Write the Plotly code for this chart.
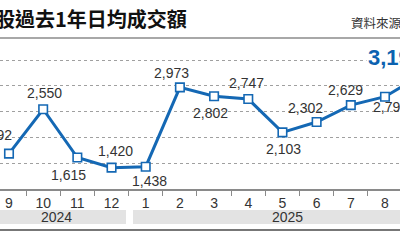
import plotly.graph_objects as go

# ---- data ----
months = ["9", "10", "11", "12", "1", "2", "3", "4", "5", "6", "7", "8", "9"]
values = [1692, 2550, 1615, 1420, 1438, 2973, 2802, 2747, 2103, 2302, 2629, 2793, 3190]
labels = ["1,692", "2,550", "1,615", "1,420", "1,438", "2,973", "2,802", "2,747",
          "2,103", "2,302", "2,629", "2,793", "3,190"]
years = ["2024", "2025"]
title = "港股過去1年日均成交額"
source = "資料來源：港交所"

# ---- styles ----
BLUE = "#1468b4"
LABEL_BLUE = "#0b62b0"
TXT = "#333333"
FONT = "Liberation Sans, Arial, sans-serif"
CJK = "Noto Sans CJK TC, Noto Sans CJK SC, sans-serif"
# label offsets (px) relative to each point: (xshift, yshift)
offsets = [(-14.5, 18.6), (1, 16.6), (-9, -17), (4, 16.6), (4, -14), (-8, 14.4),
           (-4, -17), (-2, 16), (1, -17), (-11, 14), (-5, 15), (5.5, -10)]

W, H = 400, 240
AX_Y = 189  # pixel of x-axis line


def py(p):
    return (AX_Y - p) / AX_Y


x = list(range(len(values)))

fig = go.Figure()
fig.add_trace(go.Scatter(
    x=x, y=values, mode="lines+markers",
    line=dict(color=BLUE, width=3),
    marker=dict(symbol="square", size=8.5, color="white", line=dict(color=BLUE, width=1.6)),
    hoverinfo="skip", cliponaxis=True,
))

ann = []
for i, (dx, dy) in enumerate(offsets):
    ann.append(dict(x=x[i], y=values[i], xref="x", yref="y", text=labels[i], showarrow=False,
                    xshift=dx, yshift=dy, font=dict(family=FONT, size=14, color=TXT)))
# latest value highlighted (point lies beyond the visible range)
ann.append(dict(x=x[11], y=values[12], xref="x", yref="y", text="<b>" + labels[12] + "</b>",
                showarrow=False, xshift=11, yshift=19, bgcolor="white",
                font=dict(family=FONT, size=22, color=LABEL_BLUE)))
# title and source
ann.append(dict(x=189 / W, y=py(18), xref="paper", yref="paper", xanchor="right", yanchor="middle",
                text="<b>" + title + "</b>", showarrow=False,
                font=dict(family=CJK, size=20, color="#111111")))
ann.append(dict(x=349 / W, y=py(22), xref="paper", yref="paper", xanchor="left", yanchor="middle",
                text=source, showarrow=False, font=dict(family=CJK, size=12.5, color=TXT)))
# year labels
year_pos = [1.4, 8.16]
for yr, xp in zip(years, year_pos):
    ann.append(dict(x=xp, y=py(217), xref="x", yref="paper", text=yr, showarrow=False,
                    font=dict(family=FONT, size=14, color=TXT), yanchor="middle"))

shapes = [
    dict(type="line", xref="paper", yref="paper", x0=0, x1=1, y0=py(38), y1=py(38),
         line=dict(color="#a8a8a8", width=2)),
    dict(type="line", xref="paper", yref="paper", x0=0, x1=1, y0=py(230), y1=py(230),
         line=dict(color="#777777", width=2)),
    dict(type="rect", xref="paper", yref="paper", x0=0, x1=126 / W, y0=py(224), y1=py(210),
         fillcolor="#e3e3e3", line=dict(width=0), layer="below"),
    dict(type="rect", xref="paper", yref="paper", x0=133 / W, x1=1, y0=py(224), y1=py(210),
         fillcolor="#e3e3e3", line=dict(width=0), layer="below"),
]

fig.update_layout(
    width=W, height=H, margin=dict(l=0, r=0, t=0, b=H - AX_Y),
    paper_bgcolor="white", plot_bgcolor="white", showlegend=False,
    annotations=ann, shapes=shapes,
    xaxis=dict(range=[-0.263, 11.439], tickmode="array", tickvals=x[:12], ticktext=months[:12],
               ticks="", showgrid=False, zeroline=False, showline=True, linecolor="#8a8a8a",
               linewidth=1.5, tickfont=dict(family=FONT, size=14, color=TXT),
               minor=dict(tickvals=[i + 0.5 for i in range(11)], ticks="outside", ticklen=5,
                          tickcolor="#8a8a8a", tickwidth=1.2, showgrid=False)),
    yaxis=dict(range=[1006.5, 4664], tickmode="array", tickvals=[1500, 2000, 2500, 3000, 3500],
               showticklabels=False, ticks="", showgrid=True, gridcolor="#a0a0a0", griddash="dot",
               gridwidth=1, zeroline=False, showline=False),
)

fig.write_html("out.html")
